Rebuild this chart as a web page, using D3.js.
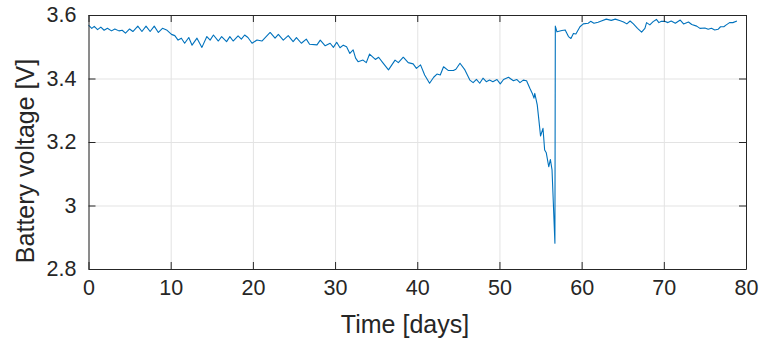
<!DOCTYPE html>
<html>
<head>
<meta charset="utf-8">
<script src="https://cdn.jsdelivr.net/npm/d3@7"></script>
<style>
  body { margin: 0; background: #fff; }
  svg { display: block; font-family: "Liberation Sans", Arial, sans-serif; }
  .grid line { stroke: #e3e3e3; stroke-width: 1; }
  .grid path { display: none; }
  .axis path, .axis line { stroke: #262626; }
  .axis text { fill: #262626; font-size: 21.5px; }
</style>
</head>
<body>
<svg id="chart" width="759" height="341"></svg>
<script>
// time in days, battery voltage in V
var days = [0.0,0.4,0.7,1.1,1.5,1.9,2.3,2.8,3.2,3.7,4.1,4.5,5.0,5.4,6.0,6.5,7.0,7.5,8.0,8.5,9.0,9.5,
  10.1,10.5,10.9,11.3,11.7,12.2,12.6,13.2,13.8,14.4,14.8,15.2,15.8,16.2,16.8,17.2,17.6,18.2,18.6,19.0,19.4,19.9,
  20.5,21.1,21.5,22.1,22.7,23.1,23.7,24.3,24.9,25.3,25.9,26.5,26.9,27.8,28.2,28.8,29.4,29.8,30.2,30.6,
  31.0,31.4,31.8,32.2,32.5,32.8,33.4,33.8,34.2,34.9,35.3,35.8,36.5,37.3,37.7,38.3,38.9,39.5,39.9,
  40.4,40.9,41.5,42.0,42.4,42.8,43.2,43.8,44.4,44.7,45.2,45.8,46.4,46.8,47.2,47.6,48.0,48.4,48.8,49.2,49.7,
  50.1,50.5,51.1,51.7,52.1,52.5,52.9,53.3,53.7,54.0,54.2,54.3,54.6,54.8,55.0,55.3,55.5,55.7,56.0,56.2,56.4,56.75,
  56.8,57.0,57.6,58.0,58.4,58.7,59.0,59.3,59.8,60.2,60.8,61.1,61.5,62.0,62.4,63.0,63.6,64.1,64.7,65.1,65.5,65.9,
  66.3,66.8,67.3,67.7,67.9,68.3,68.7,69.1,69.4,69.7,70.1,70.5,70.9,71.4,72.0,72.4,73.0,73.4,74.0,74.4,75.0,
  75.4,75.8,76.2,76.6,76.9,77.3,77.6,78.0,78.4,78.9];
var volts = [3.568,3.558,3.564,3.554,3.562,3.552,3.558,3.550,3.556,3.550,3.552,3.543,3.556,3.548,3.565,3.548,3.565,3.548,3.565,3.545,3.558,3.553,
  3.539,3.535,3.521,3.527,3.511,3.529,3.505,3.527,3.498,3.532,3.521,3.537,3.518,3.532,3.516,3.532,3.518,3.534,3.524,3.537,3.529,3.511,
  3.521,3.518,3.529,3.545,3.527,3.539,3.521,3.535,3.516,3.529,3.511,3.524,3.508,3.506,3.521,3.503,3.511,3.498,3.514,3.497,
  3.505,3.500,3.479,3.490,3.464,3.453,3.458,3.450,3.477,3.460,3.467,3.450,3.427,3.458,3.450,3.467,3.450,3.446,3.432,
  3.443,3.411,3.385,3.404,3.414,3.411,3.437,3.425,3.425,3.429,3.448,3.427,3.395,3.387,3.397,3.385,3.401,3.390,3.395,3.390,3.397,
  3.383,3.397,3.404,3.393,3.397,3.387,3.395,3.393,3.369,3.353,3.338,3.353,3.317,3.269,3.219,3.243,3.175,3.166,3.122,3.145,3.112,2.881,
  3.565,3.547,3.551,3.553,3.532,3.526,3.542,3.540,3.563,3.572,3.574,3.580,3.574,3.577,3.581,3.587,3.583,3.587,3.582,3.578,3.572,3.581,
  3.572,3.558,3.546,3.558,3.576,3.569,3.579,3.586,3.576,3.580,3.580,3.576,3.581,3.574,3.584,3.572,3.578,3.570,3.565,3.558,3.559,
  3.555,3.558,3.553,3.555,3.563,3.563,3.569,3.576,3.576,3.581];
var xTicks = [0, 10, 20, 30, 40, 50, 60, 70, 80];
var yTicks = [2.8, 3, 3.2, 3.4, 3.6];

var margin = {top: 15, right: 13, bottom: 72, left: 88.5};
var width = 759 - margin.left - margin.right,
  height = 341 - margin.top - margin.bottom;

var svg = d3.select('#chart');
var g = svg.append('g').attr('transform', 'translate(' + margin.left + ',' + margin.top + ')');

var x = d3.scaleLinear().domain([0, 80]).range([0, width]);
var y = d3.scaleLinear().domain([2.8, 3.6]).range([height, 0]);

// grid
g.append('g').attr('class', 'grid')
  .attr('transform', 'translate(0,' + height + ')')
  .call(d3.axisBottom(x).tickValues(xTicks).tickSize(-height).tickFormat(''));
g.append('g').attr('class', 'grid')
  .call(d3.axisLeft(y).tickValues(yTicks).tickSize(-width).tickFormat(''));

// line
var pts = days.map((d, i) => [d, volts[i]]);
g.append('path')
  .datum(pts)
  .attr('fill', 'none')
  .attr('stroke', '#0072BD')
  .attr('stroke-width', 1.1)
  .attr('stroke-linejoin', 'round')
  .attr('d', d3.line().x(d => x(d[0])).y(d => y(d[1])));

// axes (ticks pointing inward, box on all sides)
var fmt = d3.format('~g');
g.append('g').attr('class', 'axis')
  .attr('transform', 'translate(0,' + height + ')')
  .call(d3.axisBottom(x).tickValues(xTicks).tickSizeInner(-7).tickSizeOuter(0).tickPadding(11).tickFormat(fmt));
g.append('g').attr('class', 'axis')
  .call(d3.axisLeft(y).tickValues(yTicks).tickSizeInner(-7).tickSizeOuter(0).tickPadding(12).tickFormat(fmt));
g.append('g').attr('class', 'axis')
  .call(d3.axisTop(x).tickValues(xTicks).tickSizeInner(-7).tickSizeOuter(0).tickFormat(''));
g.append('g').attr('class', 'axis')
  .attr('transform', 'translate(' + width + ',0)')
  .call(d3.axisRight(y).tickValues(yTicks).tickSizeInner(-7).tickSizeOuter(0).tickFormat(''));

// labels
svg.append('text')
  .attr('x', 405).attr('y', 333)
  .attr('text-anchor', 'middle')
  .attr('fill', '#262626').style('font-size', '25px')
  .text('Time [days]');
svg.append('text')
  .attr('transform', 'translate(34,161) rotate(-90)')
  .attr('text-anchor', 'middle')
  .attr('fill', '#262626').style('font-size', '25px')
  .text('Battery voltage [V]');
</script>
</body>
</html>
